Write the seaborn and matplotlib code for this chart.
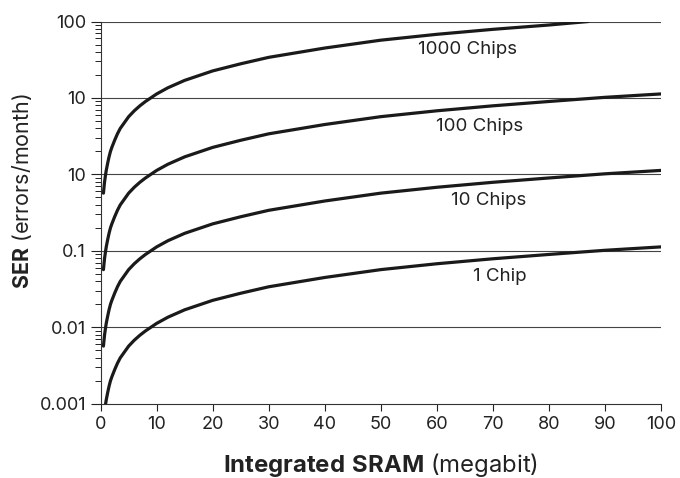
import pandas as pd
import matplotlib
matplotlib.use("Agg")
import matplotlib.pyplot as plt
import matplotlib.ticker as mticker
import seaborn as sns

sns.set_style("white")
plt.rcParams["font.family"] = ["Inter", "DejaVu Sans"]
plt.rcParams["mathtext.fontset"] = "custom"
plt.rcParams["mathtext.rm"] = "Inter"
plt.rcParams["mathtext.bf"] = "Inter:bold"

# integrated SRAM (megabit)
sram = [0.5, 0.6, 0.7, 0.85, 1, 1.25, 1.5, 1.75, 2, 2.5, 3, 3.5, 4, 5, 6,
        7, 8, 10, 12, 15, 20, 25, 30, 40, 50, 60, 70, 80, 90, 100]

# SER (errors/month)
ser_1 = [0.00057, 0.00068, 0.0008, 0.00096, 0.00113, 0.0014, 0.0017, 0.002,
         0.00226, 0.0028, 0.0034, 0.004, 0.0045, 0.0057, 0.0068,
         0.0079, 0.009, 0.0113, 0.0136, 0.017, 0.0226, 0.028, 0.034,
         0.045, 0.057, 0.068, 0.079, 0.09, 0.102, 0.113]
ser_10 = [0.0057, 0.0068, 0.008, 0.0096, 0.0113, 0.014, 0.017, 0.02,
          0.0226, 0.028, 0.034, 0.04, 0.045, 0.057, 0.068,
          0.079, 0.09, 0.113, 0.136, 0.17, 0.226, 0.28, 0.34,
          0.45, 0.57, 0.68, 0.79, 0.9, 1.02, 1.13]
ser_100 = [0.057, 0.068, 0.08, 0.096, 0.113, 0.14, 0.17, 0.2,
           0.226, 0.28, 0.34, 0.4, 0.45, 0.57, 0.68,
           0.79, 0.9, 1.13, 1.36, 1.7, 2.26, 2.8, 3.4,
           4.5, 5.7, 6.8, 7.9, 9.0, 10.2, 11.3]
sram_1000 = [0.5, 0.6, 0.7, 0.85, 1, 1.25, 1.5, 1.75, 2, 2.5, 3, 3.5, 4, 5, 6,
             7, 8, 10, 12, 15, 20, 25, 30, 40, 50, 60, 70, 80, 87]
ser_1000 = [0.57, 0.68, 0.8, 0.96, 1.13, 1.4, 1.7, 2.0,
            2.26, 2.8, 3.4, 4.0, 4.5, 5.7, 6.8,
            7.9, 9.0, 11.3, 13.6, 17, 22.6, 28, 34,
            45, 57, 68, 79, 90, 100]

curve_labels = ["1 Chip", "10 Chips", "100 Chips", "1000 Chips"]
label_x = [71.2, 69.2, 67.6, 65.4]
label_y = [0.046, 0.46, 4.3, 42.6]

ytick_vals = [0.001, 0.01, 0.1, 1, 10, 100]
ytick_text = ["0.001", "0.01", "0.1", "10", "10", "100"]

df = pd.concat([
    pd.DataFrame({"sram": sram, "ser": ser_1, "chips": "1"}),
    pd.DataFrame({"sram": sram, "ser": ser_10, "chips": "10"}),
    pd.DataFrame({"sram": sram, "ser": ser_100, "chips": "100"}),
    pd.DataFrame({"sram": sram_1000, "ser": ser_1000, "chips": "1000"}),
])

fig = plt.figure(figsize=(6.8, 4.78), dpi=100)
ax = fig.add_axes([0.148, 0.155, 0.824, 0.8])

ax.set_yscale("log")
ax.set_xlim(0, 100)
ax.set_ylim(0.001, 100)

for v in ytick_vals[1:]:
    ax.axhline(v, color="#444444", lw=0.8, zorder=1)

sns.lineplot(data=df, x="sram", y="ser", hue="chips",
             palette=["#1a1a1a"] * 4, linewidth=2.3, legend=False,
             ax=ax, zorder=3)
ax.set_xlabel("")
ax.set_ylabel("")

for t, x, y in zip(curve_labels, label_x, label_y):
    ax.text(x, y, t, ha="center", va="center", fontsize=13.5, color="#222222")

ax.yaxis.set_major_locator(mticker.FixedLocator(ytick_vals))
ax.yaxis.set_major_formatter(mticker.FixedFormatter(ytick_text))
ax.yaxis.set_minor_locator(mticker.LogLocator(base=10, subs=range(2, 10)))
ax.yaxis.set_minor_formatter(mticker.NullFormatter())
ax.set_xticks(range(0, 101, 10))

ax.tick_params(axis="y", which="major", direction="out", length=7, width=0.8,
               labelsize=13, colors="#222222", left=True)
ax.tick_params(axis="y", which="minor", direction="out", length=4, width=0.7,
               left=True, colors="#222222")
ax.tick_params(axis="x", which="major", direction="out", length=5, width=0.8,
               labelsize=13, colors="#222222", bottom=True)

for s in ["top", "right"]:
    ax.spines[s].set_visible(False)
for s in ["left", "bottom"]:
    ax.spines[s].set_color("#333333")
    ax.spines[s].set_linewidth(0.8)

fig.text(380 / 680, 1 - 465 / 478, r"$\bf{Integrated\ SRAM}$ (megabit)",
         fontsize=17.2, color="#222222", ha="center", va="center")
fig.text(22 / 680, 1 - 191 / 478, r"$\bf{SER}$ (errors/month)",
         fontsize=15.5, color="#222222", ha="center", va="center",
         rotation=90)

fig.savefig("out.png", dpi=100)
